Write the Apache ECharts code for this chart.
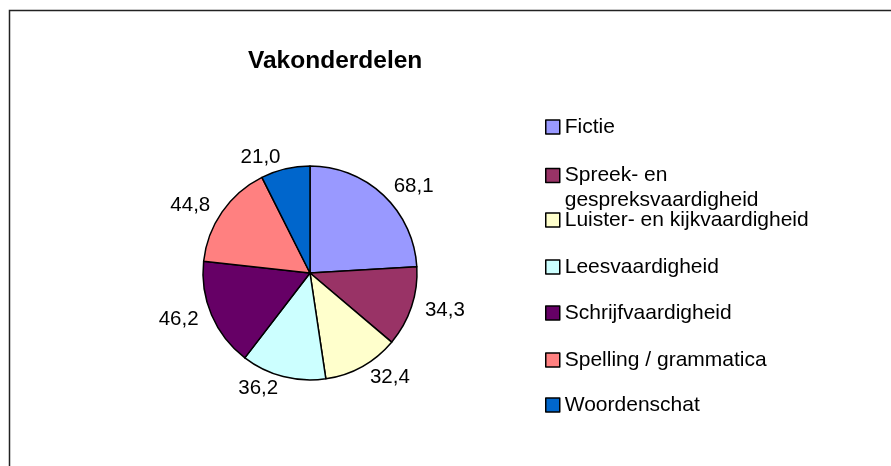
<!DOCTYPE html>
<html>
<head>
<meta charset="utf-8">
<script src="https://cdn.jsdelivr.net/npm/echarts@6/dist/echarts.min.js"></script>
<style>
  html, body { margin: 0; padding: 0; background: #fff; }
  #main { width: 891px; height: 466px; }
</style>
</head>
<body>
<div id="main"></div>
<script>
// chart data
const categories = [
  "Fictie",
  "Spreek- en\ngespreksvaardigheid",
  "Luister- en kijkvaardigheid",
  "Leesvaardigheid",
  "Schrijfvaardigheid",
  "Spelling / grammatica",
  "Woordenschat"
];
const values = [68.1, 34.3, 32.4, 36.2, 46.2, 44.8, 21.0];

const colors = ["#9999FF", "#993366", "#FFFFCC", "#CCFFFF", "#660066", "#FF8080", "#0066CC"];
const font = "Liberation Sans, Arial, sans-serif";

var chartDom = document.getElementById("main");
var myChart = echarts.init(chartDom);

// legend rows (icon centre y)
var rowY = [127, 173, 220, 267, 313, 360, 405];
var legends = categories.map(function (name, i) {
  var twoLines = name.indexOf("\n") >= 0;
  return {
    data: [name],
    orient: "vertical",
    left: 545,
    // wrapped item: an empty line above keeps the icon level with the first line
    top: twoLines ? rowY[i] - 35 : rowY[i] - 12,
    padding: 0,
    itemWidth: 14,
    itemHeight: 14,
    selectedMode: false,
    icon: "rect",
    itemStyle: { borderColor: "#000", borderWidth: 1.5 },
    formatter: twoLines ? function (n) { return "\n" + n; } : "{name}",
    textStyle: {
      fontFamily: font,
      fontSize: 21,
      color: "#000",
      lineHeight: twoLines ? 25 : 24
    }
  };
});

var option = {
  animation: false,
  color: colors,
  title: {
    text: "Vakonderdelen",
    left: 248,
    top: 49,
    padding: 0,
    textStyle: { fontFamily: font, fontSize: 24.5, fontWeight: "bold", color: "#000" }
  },
  legend: legends,
  graphic: [{
    type: "rect",
    shape: { x: 9.5, y: 10.5, width: 1000, height: 1000 },
    style: { fill: "none", stroke: "#222", lineWidth: 1.5 },
    silent: true
  }],
  series: [{
    type: "pie",
    center: [310, 273],
    radius: 107,
    startAngle: 90,
    clockwise: true,
    avoidLabelOverlap: false,
    itemStyle: { borderColor: "#000", borderWidth: 1.5 },
    label: {
      show: true,
      position: "outside",
      fontFamily: font,
      fontSize: 20.5,
      color: "#000",
      distanceToLabelLine: 2,
      formatter: function (p) { return p.value.toFixed(1).replace(".", ","); }
    },
    labelLine: { show: false, length: 12, length2: 0 },
    emphasis: { disabled: true },
    data: categories.map(function (c, i) { return { name: c, value: values[i] }; })
  }]
};

option && myChart.setOption(option);
</script>
</body>
</html>
